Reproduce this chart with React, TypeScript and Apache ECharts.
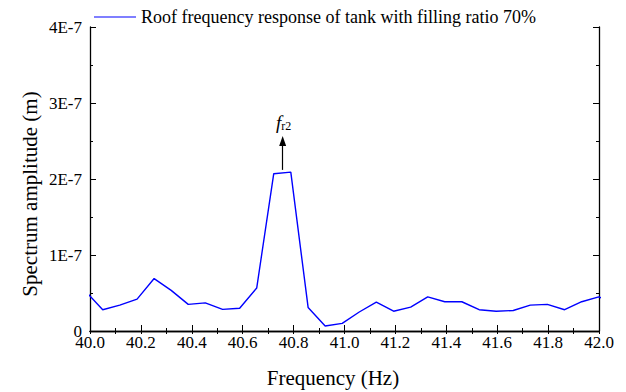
import React, { useEffect, useRef } from "react";
import * as echarts from "echarts";

const frequencies = [
  39.983, 40.05, 40.117, 40.185, 40.252, 40.319, 40.386, 40.453, 40.521, 40.588,
  40.655, 40.722, 40.789, 40.857, 40.924, 40.991, 41.058, 41.125, 41.193, 41.26,
  41.327, 41.394, 41.461, 41.529, 41.596, 41.663, 41.73, 41.797, 41.865, 41.932,
  41.999, 42.066,
];
const amplitudes = [
  5.2e-8, 2.8e-8, 3.4e-8, 4.2e-8, 6.9e-8, 5.35e-8, 3.5e-8, 3.7e-8, 2.85e-8, 3.0e-8,
  5.65e-8, 2.07e-7, 2.09e-7, 3.1e-8, 0.66e-8, 1.0e-8, 2.5e-8, 3.8e-8, 2.6e-8, 3.15e-8,
  4.5e-8, 3.85e-8, 3.85e-8, 2.8e-8, 2.6e-8, 2.7e-8, 3.4e-8, 3.5e-8, 2.8e-8, 3.85e-8,
  4.5e-8, 3.5e-8,
];
const seriesName = "Roof frequency response of tank with filling ratio 70%";
const xTitle = "Frequency (Hz)";
const yTitle = "Spectrum amplitude (m)";
const arrowFreq = 40.757;
const arrowFrom = 2.12e-7;
const arrowTo = 2.5e-7;

const FONT = "Liberation Serif";

export default function App() {
  const ref = useRef<HTMLDivElement>(null);
  useEffect(() => {
    if (!ref.current) return;
    const chart = echarts.init(ref.current, null, { renderer: "svg" });
    const data = frequencies.map((f, i) => [f, amplitudes[i]]);
    const axisLine = { lineStyle: { color: "#000", width: 1.3 } };
    const yFmt = (v: number) => {
      const n = Math.round(v * 1e7);
      return n === 0 ? "0" : `${n}E-7`;
    };
    chart.setOption({
      animation: false,
      textStyle: { fontFamily: FONT },
      grid: { left: 90, right: 27, top: 27, bottom: 61 },
      legend: {
        show: true,
        left: 89,
        top: 3,
        itemWidth: 42,
        itemHeight: 14,
        itemGap: 4,
        textStyle: { fontFamily: FONT, fontSize: 18, color: "#000" },
        data: [{ name: seriesName, icon: "path://M0,6L40,6L40,7L0,7Z" }],
      },
      xAxis: [
        {
          type: "value",
          min: 40,
          max: 42,
          interval: 0.2,
          axisLine,
          axisTick: { inside: true, length: 6, lineStyle: { color: "#000" } },
          minorTick: { show: true, splitNumber: 2, length: 3, lineStyle: { color: "#000" } },
          splitLine: { show: false },
          axisLabel: {
            fontFamily: FONT,
            fontSize: 17,
            color: "#000",
            margin: 3,
            formatter: (v: number) => v.toFixed(1),
          },
        },
        {
          type: "value",
          position: "top",
          min: 40,
          max: 42,
          interval: 0.2,
          axisLine,
          axisTick: { inside: true, length: 3, lineStyle: { color: "#000" } },
          minorTick: { show: true, splitNumber: 2, length: 3, lineStyle: { color: "#000" } },
          splitLine: { show: false },
          axisLabel: { show: false },
        },
      ],
      yAxis: [
        {
          type: "value",
          min: 0,
          max: 4e-7,
          interval: 1e-7,
          axisLine: { show: true, ...axisLine },
          axisTick: { show: true, inside: true, length: 6, lineStyle: { color: "#000" } },
          minorTick: { show: true, splitNumber: 2, length: 3, lineStyle: { color: "#000" } },
          splitLine: { show: false },
          axisLabel: { fontFamily: FONT, fontSize: 17, color: "#000", margin: 8, formatter: yFmt },
        },
        {
          type: "value",
          position: "right",
          min: 0,
          max: 4e-7,
          interval: 1e-7,
          axisLine: { show: true, ...axisLine },
          axisTick: { show: true, inside: true, length: 6, lineStyle: { color: "#000" } },
          minorTick: { show: true, splitNumber: 2, length: 3, lineStyle: { color: "#000" } },
          splitLine: { show: false },
          axisLabel: { show: false },
        },
      ],
      series: [
        {
          name: seriesName,
          type: "line",
          data,
          showSymbol: false,
          symbol: "none",
          clip: true,
          lineStyle: { color: "#0000ff", width: 1.4 },
          itemStyle: { color: "#0000ff" },
          markLine: {
            silent: true,
            symbol: ["none", "triangle"],
            symbolSize: [7, 10],
            lineStyle: { color: "#000", width: 1.2, type: "solid" },
            itemStyle: { color: "#000" },
            label: { show: false },
            data: [[{ coord: [arrowFreq, arrowFrom] }, { coord: [arrowFreq, arrowTo] }]],
          },
        },
      ],
      graphic: [
        {
          type: "text",
          x: 30,
          y: 194,
          rotation: Math.PI / 2,
          style: {
            text: yTitle,
            fontFamily: FONT,
            fontSize: 21,
            fill: "#000",
            align: "center",
            verticalAlign: "middle",
          },
        },
        {
          type: "text",
          x: 333,
          y: 378,
          style: {
            text: xTitle,
            fontFamily: FONT,
            fontSize: 21,
            fill: "#000",
            align: "center",
            verticalAlign: "middle",
          },
        },
        {
          type: "text",
          x: 276,
          y: 112,
          style: {
            text: "{i|f}{s|r2}",
            fill: "#000",
            rich: {
              i: { fontFamily: FONT, fontStyle: "italic", fontSize: 19, fill: "#000" },
              s: { fontFamily: FONT, fontSize: 12, fill: "#000", verticalAlign: "bottom", padding: [8, 0, 0, 0] },
            },
          },
        },
      ],
    });
    return () => chart.dispose();
  }, []);
  return (
    <div
      ref={ref}
      style={{ width: 626, height: 392, position: "absolute", left: 0, top: 0 }}
    />
  );
}
